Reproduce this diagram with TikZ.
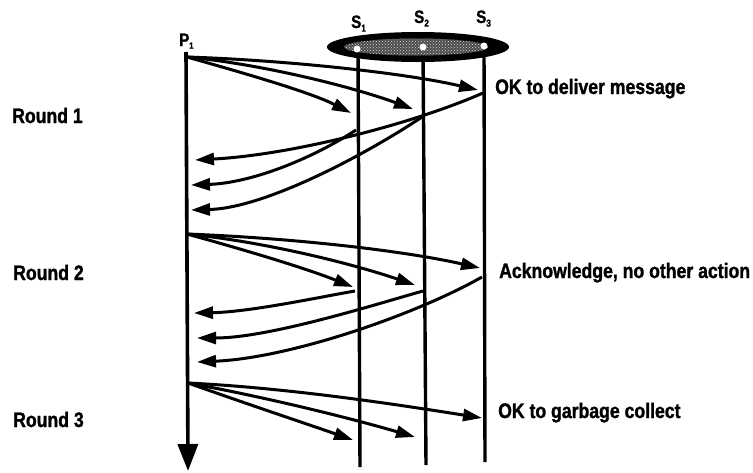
\documentclass[tikz,border=0pt]{standalone}
\usepackage{fontspec}
\newfontfamily\lblfont{Liberation Sans}[FakeStretch=0.84,FakeBold=1.3]
\usetikzlibrary{arrows.meta,patterns}
\begin{document}
\begin{tikzpicture}[x=1pt,y=-1pt,
  life/.style={line width=3.4pt},
  msg/.style={line width=3pt,-{Triangle[length=19pt,width=12pt]}},
  lbl/.style={font=\lblfont\bfseries\fontsize{21}{22}\selectfont, inner sep=0pt, anchor=base west},
  sname/.style={font=\lblfont\bfseries\fontsize{18}{18}\selectfont, inner sep=0pt, anchor=base west}
]
\useasboundingbox (0,0) rectangle (753,472);

% lifelines
\coordinate (ptop) at (186,52);  \coordinate (pbot) at (188,471);
\coordinate (s1top) at (358,49); \coordinate (s1bot) at (360,467);
\coordinate (s2top) at (423,47); \coordinate (s2bot) at (426,465);
\coordinate (s3top) at (484,46); \coordinate (s3bot) at (485,462);
\draw[line width=3.6pt,-{Triangle[length=27pt,width=20pt]}] (ptop) -- (pbot);
\draw[life] (s1top) -- (s1bot);
\draw[life] (s2top) -- (s2bot);
\draw[life] (s3top) -- (s3bot);

% group ellipse
\fill[black] (418,47) ellipse [x radius=91, y radius=15];
\fill[black!70] (416,47) ellipse [x radius=72, y radius=8.5];
\fill[pattern=crosshatch dots, pattern color=white!85!black] (416,47) ellipse [x radius=72, y radius=8.5];
\fill[white] (357,49) circle [radius=3.5pt];
\fill[white] (423,47) circle [radius=3.5pt];
\fill[white] (484,46) circle [radius=3.5pt];

% labels
\node[sname] (lp) at (179,46) {P\raisebox{-0.15em}{\fontsize{9}{9}\selectfont 1}};
\node[sname] (ls1) at (351,28) {S\raisebox{-0.2em}{\fontsize{10}{10}\selectfont 1}};
\node[sname] (ls2) at (414,23) {S\raisebox{-0.2em}{\fontsize{10}{10}\selectfont 2}};
\node[sname] (ls3) at (476,23) {S\raisebox{-0.2em}{\fontsize{10}{10}\selectfont 3}};

\node[lbl] (r1) at (12,123) {Round 1};
\node[lbl] (r2) at (13,280) {Round 2};
\node[lbl] (r3) at (13,427) {Round 3};
\node[lbl] (m1) at (495,94) {OK to deliver message};
\node[lbl] (m2) at (499,278) {Acknowledge, no other action};
\node[lbl] (m3) at (498,418) {OK to garbage collect};

% Round 1
\coordinate (o1) at (187,57);
\coordinate (a1) at (351,113); \coordinate (a2) at (413,109); \coordinate (a3) at (478,90);
\draw[msg] (o1) .. controls (240,72) and (310,92) .. (a1);
\draw[msg] (o1) .. controls (260,64) and (350,86) .. (a2);
\draw[msg] (o1) .. controls (280,60) and (400,72) .. (a3);
\coordinate (b3) at (483,93); \coordinate (t1) at (195,160);
\coordinate (b1) at (356,130); \coordinate (t2) at (191,185);
\coordinate (b2) at (422,117); \coordinate (t3) at (191,210);
\draw[msg] (b3) .. controls (410,125) and (290,155) .. (t1);
\draw[msg] (b1) .. controls (310,160) and (250,183) .. (t2);
\draw[msg] (b2) .. controls (365,155) and (265,208) .. (t3);

% Round 2
\coordinate (o2) at (187,234);
\coordinate (c1) at (353,287); \coordinate (c2) at (415,285); \coordinate (c3) at (480,268);
\draw[msg] (o2) .. controls (245,250) and (305,268) .. (c1);
\draw[msg] (o2) .. controls (265,242) and (350,263) .. (c2);
\draw[msg] (o2) .. controls (290,238) and (400,250) .. (c3);
\coordinate (d1) at (355,291); \coordinate (u1) at (194,313);
\coordinate (d2) at (423,291); \coordinate (u2) at (197,338);
\coordinate (d3) at (482,277); \coordinate (u3) at (197,362);
\draw[msg] (d1) .. controls (320,297) and (250,312) .. (u1);
\draw[msg] (d2) .. controls (380,303) and (270,338) .. (u2);
\draw[msg] (d3) .. controls (415,315) and (290,358) .. (u3);

% Round 3
\coordinate (o3) at (188,383);
\coordinate (e1) at (353,440); \coordinate (e2) at (415,437); \coordinate (e3) at (482,418);
\draw[msg] (o3) .. controls (250,405) and (310,425) .. (e1);
\draw[msg] (o3) .. controls (265,397) and (350,418) .. (e2);
\draw[msg] (o3) .. controls (290,388) and (400,405) .. (e3);
\end{tikzpicture}
\end{document}
